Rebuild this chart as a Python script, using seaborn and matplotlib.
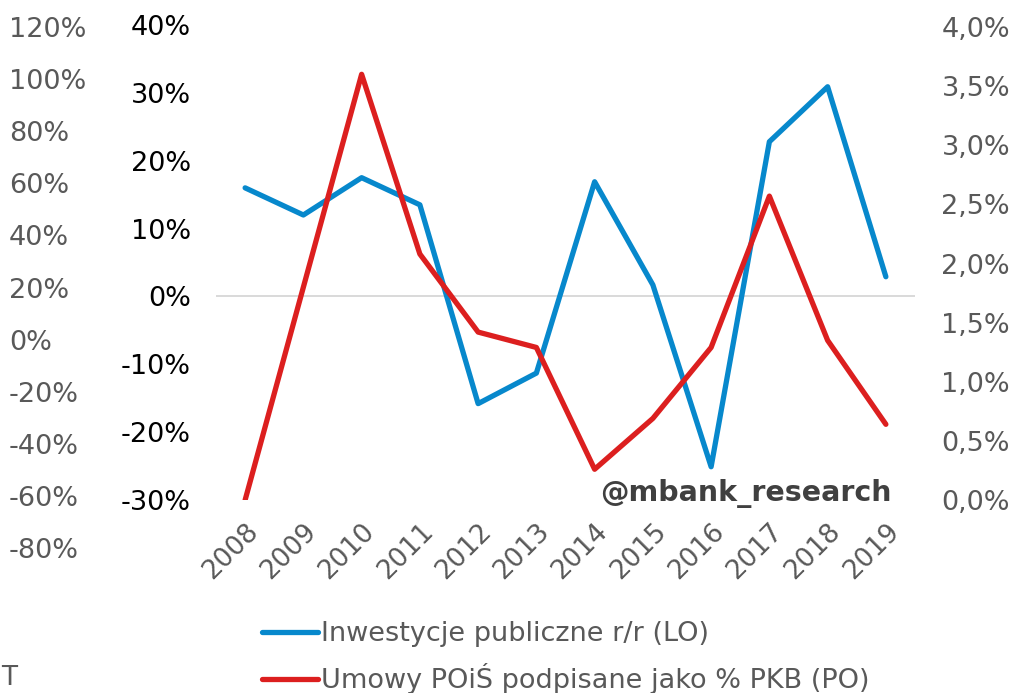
import pandas as pd
import matplotlib
matplotlib.use("Agg")
import matplotlib.pyplot as plt
import matplotlib.ticker as mticker
import seaborn as sns

# data
years = [2008, 2009, 2010, 2011, 2012, 2013, 2014, 2015, 2016, 2017, 2018, 2019]
inwestycje = [16.0, 12.0, 17.5, 13.5, -15.8, -11.3, 16.9, 1.7, -25.1, 22.8, 30.9, 2.9]   # % r/r, left axis
umowy = [0.0, 1.8, 3.6, 2.08, 1.42, 1.29, 0.26, 0.69, 1.29, 2.57, 1.35, 0.64]           # % PKB, right axis

left_ticks = [-30, -20, -10, 0, 10, 20, 30, 40]
outer_ticks = [-80, -60, -40, -20, 0, 20, 40, 60, 80, 100, 120]
right_ticks = [0.0, 0.5, 1.0, 1.5, 2.0, 2.5, 3.0, 3.5, 4.0]

label_inw = "Inwestycje publiczne r/r (LO)"
label_umowy = "Umowy POiŚ podpisane jako % PKB (PO)"

df = pd.DataFrame({"rok": years, "inw": inwestycje, "umowy": umowy})

sns.set_style("white")
plt.rcParams["font.family"] = ["DejaVu Sans"]

blue = "#0788CC"
red = "#DC1F1F"
grey = "#595959"
fs = 19.5

fig = plt.figure(figsize=(10.17, 6.93), dpi=100)
ax = fig.add_axes([216 / 1017, 1 - 500 / 693, (915 - 216) / 1017, 475 / 693])

# extra grey axis on the far left (as in the source picture)
ax3 = fig.add_axes([216 / 1017, 1 - 548 / 693, (915 - 216) / 1017, 521 / 693], frameon=False)
ax3.set_ylim(-80, 120)
ax3.set_yticks(outer_ticks)
ax3.yaxis.set_major_formatter(mticker.FuncFormatter(lambda v, p: f"{v:.0f}%"))
ax3.tick_params(axis="y", length=0, pad=149, labelsize=fs, labelcolor=grey)
for t in ax3.get_yticklabels():
    t.set_horizontalalignment("left")
ax3.set_xticks([])
ax3.patch.set_alpha(0)

sns.lineplot(data=df, x="rok", y="inw", ax=ax, color=blue, linewidth=3.8, label=label_inw, legend=False)
ax.axhline(0, color="#D9D9D9", linewidth=1.4, zorder=0)
ax.set_xlim(2007.5, 2019.5)
ax.set_ylim(-30, 40)
ax.set_yticks(left_ticks)
ax.yaxis.set_major_formatter(mticker.FuncFormatter(lambda v, p: f"{v:.0f}%"))
ax.tick_params(axis="y", length=0, pad=18, labelsize=fs, labelcolor="black")
ax.set_xticks(years)
ax.set_xticklabels([str(y) for y in years], rotation=45, ha="right", rotation_mode="anchor")
ax.tick_params(axis="x", length=0, pad=13, labelsize=19, labelcolor=grey)
ax.set_xlabel("")
ax.set_ylabel("")
for s in ax.spines.values():
    s.set_visible(False)

ax2 = ax.twinx()
sns.lineplot(data=df, x="rok", y="umowy", ax=ax2, color=red, linewidth=3.8, label=label_umowy, legend=False)
ax2.set_ylim(0, 4.0 * 475 / 473)
ax2.set_yticks(right_ticks)
ax2.yaxis.set_major_formatter(mticker.FuncFormatter(lambda v, p: f"{v:.1f}%".replace(".", ",")))
ax2.tick_params(axis="y", length=0, pad=19, labelsize=fs, labelcolor=grey)
ax2.set_ylabel("")
for s in ax2.spines.values():
    s.set_visible(False)

fig.text(892 / 1017, 1 - 493 / 693, "@mbank_research", ha="right", va="center",
         fontsize=20.5, fontweight="bold", color="#404040")
fig.text(1 / 1017, 1 - 678 / 693, "T", ha="left", va="center", fontsize=19, color=grey)

h1, l1 = ax.get_legend_handles_labels()
h2, l2 = ax2.get_legend_handles_labels()
leg = fig.legend(h1 + h2, l1 + l2, loc="upper left", bbox_to_anchor=(262 / 1017, 1 - 621 / 693),
                 frameon=False, fontsize=19.5, handlelength=2.05, handletextpad=0.12,
                 labelspacing=0.6, borderpad=0, borderaxespad=0)
for t in leg.get_texts():
    t.set_color(grey)

fig.savefig("out.png", dpi=100)
